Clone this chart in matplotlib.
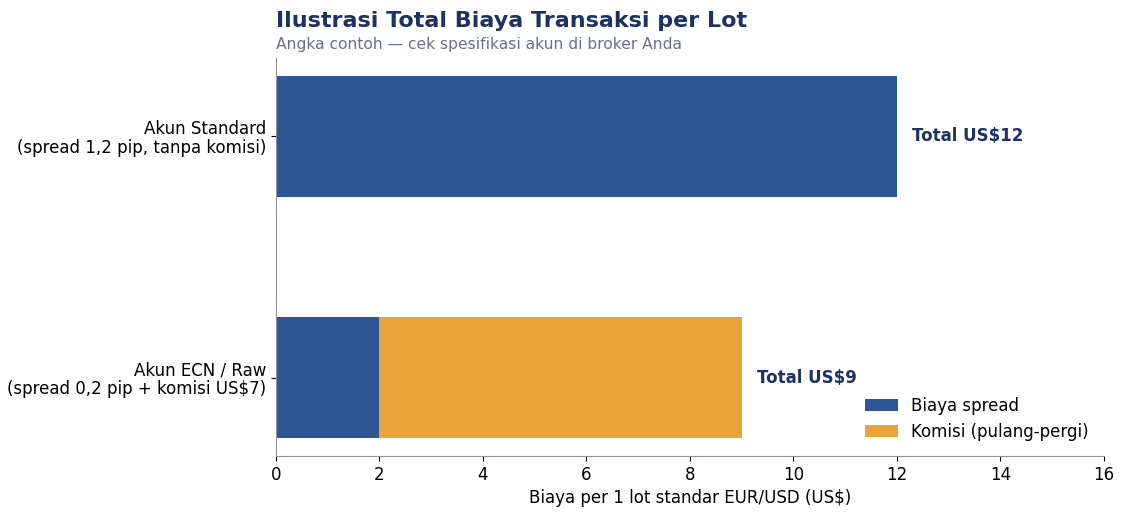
import matplotlib
matplotlib.use("Agg")
import matplotlib.pyplot as plt

accounts = ["Akun ECN / Raw\n(spread 0,2 pip + komisi US$7)",
            "Akun Standard\n(spread 1,2 pip, tanpa komisi)"]
spread_cost = [2, 12]
commission = [7, 0]
totals = [9, 12]

blue = "#2e5594"
orange = "#e8a33d"
navy = "#1c3260"

fig = plt.figure(figsize=(11.25, 5.16), dpi=100)
ax = fig.add_axes([0.2453, 0.1163, 0.7360, 0.7713])

pos = range(len(accounts))
ax.barh(pos, spread_cost, height=0.5, color=blue, label="Biaya spread")
ax.barh(pos, commission, left=spread_cost, height=0.5, color=orange,
        label="Komisi (pulang-pergi)")

for i, t in enumerate(totals):
    ax.text(t + 0.3, i, f"Total US${t}", va="center", ha="left",
            fontsize=12, fontweight="bold", color=navy)

ax.set_yticks(list(pos))
ax.set_yticklabels(accounts, fontsize=12, linespacing=1.05)
ax.set_xlim(0, 16)
ax.set_xticks(range(0, 17, 2))
ax.tick_params(axis="x", labelsize=12, colors="black")
ax.set_xlabel("Biaya per 1 lot standar EUR/USD (US$)", fontsize=12)

for s in ["top", "right"]:
    ax.spines[s].set_visible(False)
for s in ["left", "bottom"]:
    ax.spines[s].set_color("#8f949c")

ax.legend(loc="lower right", frameon=False, fontsize=12)

fig.text(0.2453, 0.96, "Ilustrasi Total Biaya Transaksi per Lot", fontsize=16,
         fontweight="bold", color=navy, ha="left", va="center")
fig.text(0.2453, 0.914, "Angka contoh \u2014 cek spesifikasi akun di broker Anda",
         fontsize=11.2, color="#6b7280", ha="left", va="center")

fig.savefig("out.png", dpi=100)
